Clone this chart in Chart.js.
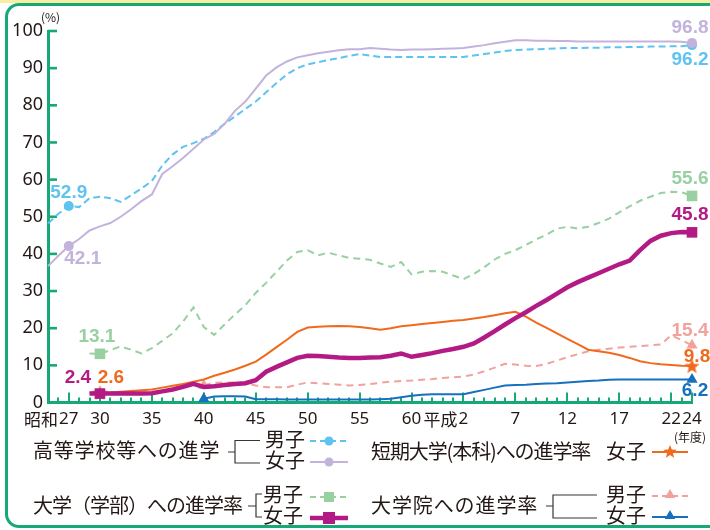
<!DOCTYPE html>
<html><head><meta charset="utf-8">
<script src="https://cdn.jsdelivr.net/npm/chart.js@4.4.0/dist/chart.umd.min.js"></script>
<style>
html,body{margin:0;padding:0;background:#fff;width:710px;height:530px;overflow:hidden;position:relative;font-family:"Noto Sans CJK JP",sans-serif;color:#231815}
#topband{position:absolute;left:0;top:0;width:710px;height:3px;background:#f8eea3}
#frame{position:absolute;left:5px;top:3px;width:740px;height:525px;box-sizing:border-box;border:3px solid #17a878;border-radius:14px}
#c{position:absolute;left:0;top:0}
.t{position:absolute;white-space:nowrap;font-size:20px;line-height:20px}
.s{position:absolute;white-space:nowrap;font-size:12px;line-height:12px}
#lg{position:absolute;left:0;top:0}
</style></head><body>
<div id="topband"></div>
<div id="frame"></div>
<canvas id="c" width="710" height="530"></canvas>
<svg id="lg" width="710" height="530"></svg>
<div class="s" style="left:41px;top:11px">(%)</div>
<div class="s" style="left:674px;top:431px">(年度)</div>
<div class="t" style="left:33px;top:440px;letter-spacing:0.8px">高等学校等への進学</div>
<div class="t" style="left:265px;top:429px">男子</div>
<div class="t" style="left:265px;top:450px">女子</div>
<div class="t" style="left:33px;top:495px;letter-spacing:-1px">大学（学部）への進学率</div>
<div class="t" style="left:263px;top:484px">男子</div>
<div class="t" style="left:263px;top:505px">女子</div>
<div class="t" style="left:371px;top:441px;letter-spacing:-1.1px">短期大学(本科)への進学率</div>
<div class="t" style="left:606px;top:441px">女子</div>
<div class="t" style="left:371px;top:495px;letter-spacing:0.9px">大学院への進学率</div>
<div class="t" style="left:606px;top:484px">男子</div>
<div class="t" style="left:606px;top:505px">女子</div>
<script>
// ---------- data ----------
const years = Array.from({length: 63}, (_, i) => 1950 + i); // 昭和25(1950) .. 平成24(2012)

const hsMale = [48.2,50.8,52.9,52.6,55.0,55.4,55.0,54.0,55.8,57.6,
  59.6,63.8,66.8,68.8,69.8,71.0,72.8,75.0,77.0,79.0,
  81.0,83.5,86.0,88.3,90.0,91.0,91.6,92.2,92.7,93.3,
  93.8,93.4,93.0,93.0,93.0,93.0,93.0,93.0,93.0,93.0,
  93.0,93.4,93.8,94.2,94.6,94.9,95.0,95.1,95.2,95.3,
  95.4,95.4,95.5,95.5,95.6,95.6,95.7,95.7,95.8,95.8,
  95.9,95.9,96.2];
const hsFemale = [36.7,39.5,42.1,44.0,46.3,47.4,48.3,50.0,52.0,54.2,
  56.0,61.5,63.6,65.8,68.3,70.8,72.3,75.0,78.5,81.0,
  84.5,88.0,90.2,91.8,92.9,93.5,94.0,94.4,94.8,95.1,
  95.1,95.4,95.2,95.0,94.9,95.0,95.0,95.1,95.2,95.3,
  95.4,95.8,96.2,96.7,97.1,97.5,97.5,97.4,97.4,97.3,
  97.3,97.2,97.2,97.2,97.2,97.2,97.2,97.2,97.2,97.2,
  97.2,97.1,96.8];
const univMale = [null,null,null,null,13.2,13.1,14.1,15.1,14.2,13.2,
  14.6,16.6,18.6,21.8,25.6,20.3,18.2,21.0,23.7,26.2,
  29.5,32.2,35.2,38.2,40.5,41.0,39.6,40.3,39.6,38.9,
  38.7,38.4,37.4,36.5,37.8,34.5,35.2,35.4,35.2,34.2,
  33.2,34.6,36.4,38.5,40.0,41.0,42.4,43.9,45.2,46.8,
  47.3,46.8,47.3,48.3,49.5,51.2,52.8,54.3,55.4,56.4,
  56.7,56.6,55.6];
const univFemale = [null,null,null,null,2.4,2.4,2.4,2.4,2.4,2.4,
  2.5,3.0,3.5,4.2,5.0,4.2,4.4,4.7,5.0,5.2,
  6.0,8.3,9.6,10.8,12.0,12.6,12.5,12.3,12.1,12.0,
  12.0,12.1,12.2,12.6,13.2,12.3,12.8,13.3,13.9,14.4,
  15.0,15.9,17.5,19.2,21.0,22.7,24.3,26.0,27.6,29.3,
  31.0,32.4,33.6,34.8,36.0,37.2,38.2,41.0,43.5,44.9,
  45.6,45.9,45.8];
const jcFemale = [null,null,null,null,2.6,2.6,2.7,2.9,3.1,3.3,
  3.5,4.0,4.5,5.0,5.6,6.2,7.2,8.0,8.9,9.9,
  11.0,12.9,14.9,16.9,19.0,20.2,20.4,20.5,20.6,20.5,
  20.3,20.0,19.6,20.0,20.5,20.8,21.1,21.4,21.7,22.0,
  22.2,22.6,23.0,23.5,24.0,24.4,23.1,21.5,20.1,18.6,
  17.1,15.7,14.2,13.8,13.4,12.8,12.0,11.1,10.6,10.3,
  10.1,9.9,9.8];
const gradMale = [null,null,null,null,null,null,null,null,null,null,
  null,null,null,null,null,4.6,5.3,5.4,5.4,5.2,
  4.6,4.1,4.1,4.1,4.8,5.4,5.2,5.0,4.8,4.6,
  4.7,5.0,5.3,5.6,5.8,5.9,6.1,6.3,6.6,6.8,
  7.0,7.5,8.4,9.4,10.4,10.2,9.9,9.8,10.4,11.3,
  12.2,13.0,13.8,14.2,14.5,14.8,15.0,15.2,15.4,15.6,
  18.1,16.8,15.4];
const gradFemale = [null,null,null,null,null,null,null,null,null,null,
  null,null,null,null,null,1.0,1.6,1.7,1.7,1.6,
  0.9,0.9,0.9,0.8,0.8,0.8,0.8,0.8,0.8,0.8,
  0.8,0.8,0.9,1.0,1.4,1.8,2.1,2.2,2.2,2.2,
  2.2,2.8,3.4,4.0,4.6,4.7,4.8,5.0,5.1,5.2,
  5.4,5.6,5.8,5.9,6.1,6.2,6.2,6.2,6.2,6.2,
  6.2,6.2,6.2];

const yTicks = [0,10,20,30,40,50,60,70,80,90,100];
const xTickYears  = [1952,1955,1960,1965,1970,1975,1980,1985,1990,1995,2000,2005,2010,2012];
const xTickLabels = ["27","30","35","40","45","50","55","60","2","7","12","17","22","24"];
const xTickPrefix = ["昭和","","","","","","","","平成","","","","",""];

// ---------- styling ----------
const GREEN = '#17a878', TEXT = '#231815';
const C = {hsM:'#5fc3ef', hsF:'#c3b3dc', uM:'#98d0a2', uF:'#b31a84', jc:'#ef6a1c', gM:'#f2a19d', gF:'#1770be'};

function starCanvas(color, size, ro, ri) {
  const cv = document.createElement('canvas'); cv.width = size; cv.height = size;
  const g = cv.getContext('2d'); const c = size / 2;
  g.beginPath();
  for (let k = 0; k < 10; k++) {
    const r = k % 2 ? ri : ro; const a = -Math.PI / 2 + k * Math.PI / 5;
    g.lineTo(c + r * Math.cos(a), c + 0.5 + r * Math.sin(a));
  }
  g.closePath(); g.fillStyle = color; g.fill();
  return cv;
}
const STAR = starCanvas(C.jc, 17, 8, 3.4);

const toXY = arr => years.map((yr, i) => ({x: yr, y: arr[i]})).filter(p => p.y !== null);
const markerAt = (yrs, r) => c => (c.raw && yrs.includes(c.raw.x)) ? r : 0;

const ds = (label, arr, color, width, dash, style, mYears, r) => ({
  label, data: toXY(arr), borderColor: color, backgroundColor: color,
  borderWidth: width, borderDash: dash, pointStyle: style,
  pointRadius: markerAt(mYears, r), pointHoverRadius: 0,
  pointBackgroundColor: color, pointBorderWidth: 0, tension: 0, clip: false
});

const datasets = [
  ds('大学(学部)女子', univFemale, C.uF, 4.5, [], 'rect', [1955, 2012], 7.5),
  ds('短期大学(本科)女子', jcFemale, C.jc, 2, [], STAR, [1955, 2012], 7),
  ds('大学院女子', gradFemale, C.gF, 2, [], 'triangle', [1965, 2012], 6.5),
  ds('大学院男子', gradMale, C.gM, 2, [7, 5], 'triangle', [1965, 2012], 6.5),
  ds('大学(学部)男子', univMale, C.uM, 2, [7, 5], 'rect', [1955, 2012], 7.5),
  ds('高等学校等女子', hsFemale, C.hsF, 2, [], 'circle', [1952, 2012], 5),
  ds('高等学校等男子', hsMale, C.hsM, 2, [7, 4], 'circle', [1952, 2012], 5)
];
const seriesByDs = [univFemale, jcFemale, gradFemale, gradMale, univMale, hsFemale, hsMale];

// value labels: dataset index, year, offset of text from the marker
const valueLabels = [
  {d: 6, yr: 1952, dx: 0,   dy: -13},
  {d: 5, yr: 1952, dx: 14,  dy: 13},
  {d: 4, yr: 1955, dx: -3,  dy: -17},
  {d: 0, yr: 1955, dx: -22, dy: -16},
  {d: 1, yr: 1955, dx: 11,  dy: -15},
  {d: 5, yr: 2012, dx: -2,  dy: -15},
  {d: 6, yr: 2012, dx: -2,  dy: 15},
  {d: 4, yr: 2012, dx: -2,  dy: -17.5},
  {d: 0, yr: 2012, dx: -2,  dy: -17.5},
  {d: 3, yr: 2012, dx: -2,  dy: -15},
  {d: 1, yr: 2012, dx: 5,   dy: -9},
  {d: 2, yr: 2012, dx: 3,   dy: 11.5}
];

const decor = {
  id: 'decor',
  beforeDatasetsDraw(chart) {
    const {ctx, chartArea: a, scales: {x, y}} = chart;
    ctx.save();
    ctx.strokeStyle = GREEN;
    ctx.lineWidth = 2.6;
    yTicks.forEach(v => {
      if (v === 0) return;
      const py = y.getPixelForValue(v);
      ctx.beginPath(); ctx.moveTo(a.left, py); ctx.lineTo(a.left + 9, py); ctx.stroke();
    });
    ctx.lineWidth = 2;
    years.forEach(yr => {
      if (yr === years[0]) return;
      const px = Math.round(x.getPixelForValue(yr));
      const len = xTickYears.includes(yr) ? 10 : 5;
      ctx.beginPath(); ctx.moveTo(px, a.bottom); ctx.lineTo(px, a.bottom - len); ctx.stroke();
    });
    ctx.fillStyle = TEXT; ctx.textBaseline = 'middle';
    const ly = a.bottom + 17;
    xTickYears.forEach((yr, i) => {
      const px = x.getPixelForValue(yr);
      ctx.font = '17px "Noto Sans"';
      ctx.textAlign = 'center';
      ctx.fillText(xTickLabels[i], px, ly);
      if (xTickPrefix[i]) {
        const w = ctx.measureText(xTickLabels[i]).width;
        ctx.font = '17px "Noto Sans CJK JP"';
        ctx.textAlign = 'right';
        ctx.fillText(xTickPrefix[i], px - w / 2 - 1, ly);
      }
    });
    ctx.restore();
  },
  afterDatasetsDraw(chart) {
    const {ctx, scales: {x, y}} = chart;
    ctx.save();
    ctx.font = 'bold 19px "Liberation Sans"';
    ctx.textAlign = 'center'; ctx.textBaseline = 'middle';
    valueLabels.forEach(l => {
      const v = seriesByDs[l.d][years.indexOf(l.yr)];
      ctx.fillStyle = datasets[l.d].borderColor;
      ctx.fillText(v.toFixed(1), x.getPixelForValue(l.yr) + l.dx, y.getPixelForValue(v) + l.dy);
    });
    ctx.restore();
  }
};

new Chart(document.getElementById('c'), {
  type: 'line',
  data: {datasets},
  options: {
    responsive: false, animation: false, devicePixelRatio: 1,
    events: [],
    layout: {padding: {left: 0, right: 18, top: 31, bottom: 127.5}},
    plugins: {legend: {display: false}, tooltip: {enabled: false}},
    scales: {
      x: {type: 'linear', min: years[0], max: years[years.length - 1],
          ticks: {display: false}, grid: {display: false, drawTicks: false},
          border: {display: true, color: GREEN, width: 3}},
      y: {min: 0, max: 100,
          afterBuildTicks: s => { s.ticks = yTicks.map(v => ({value: v})); },
          ticks: {color: TEXT, font: {family: 'Noto Sans', size: 18}, padding: 5},
          grid: {display: false, drawTicks: false},
          border: {display: true, color: GREEN, width: 3},
          afterFit: s => { s.width = 48; }}
    }
  },
  plugins: [decor]
});

// ---------- legend graphics ----------
function starPts(cx, cy, ro, ri) {
  const p = [];
  for (let k = 0; k < 10; k++) {
    const r = k % 2 ? ri : ro; const a = -Math.PI / 2 + k * Math.PI / 5;
    p.push((cx + r * Math.cos(a)).toFixed(1) + ',' + (cy + r * Math.sin(a)).toFixed(1));
  }
  return p.join(' ');
}
const tri = (cx, cy, r) => `${cx},${cy - r} ${cx + r * 0.866},${cy + r / 2} ${cx - r * 0.866},${cy + r / 2}`;
const lg = document.getElementById('lg');
lg.innerHTML = `
<g stroke="#3b3534" stroke-width="1.2" fill="none">
  <path d="M228 452 H235 M260 440.5 H235 V463 H260"/>
  <path d="M248 506 H256 M262 494 H256 V517 H262"/>
  <path d="M546 506 H553 M597 495 H553 V518 H597"/>
</g>
<line x1="310" y1="441" x2="348" y2="441" stroke="${C.hsM}" stroke-width="2" stroke-dasharray="6 4"/>
<circle cx="329" cy="441" r="4.5" fill="${C.hsM}"/>
<line x1="310" y1="462" x2="348" y2="462" stroke="${C.hsF}" stroke-width="2"/>
<circle cx="329" cy="462" r="4.5" fill="${C.hsF}"/>
<line x1="310" y1="497" x2="348" y2="497" stroke="${C.uM}" stroke-width="2" stroke-dasharray="6 4"/>
<rect x="324" y="492" width="10" height="10" fill="${C.uM}"/>
<line x1="310" y1="518" x2="348" y2="518" stroke="${C.uF}" stroke-width="4.5"/>
<rect x="323" y="512" width="12" height="12" fill="${C.uF}"/>
<line x1="652" y1="452" x2="688" y2="452" stroke="${C.jc}" stroke-width="2"/>
<polygon points="${starPts(670, 452, 7, 3)}" fill="${C.jc}"/>
<line x1="652" y1="496" x2="688" y2="496" stroke="${C.gM}" stroke-width="2" stroke-dasharray="6 4"/>
<polygon points="${tri(670, 495, 6)}" fill="${C.gM}"/>
<line x1="652" y1="517" x2="688" y2="517" stroke="${C.gF}" stroke-width="2"/>
<polygon points="${tri(670, 516, 6)}" fill="${C.gF}"/>
`;
</script>
</body></html>
